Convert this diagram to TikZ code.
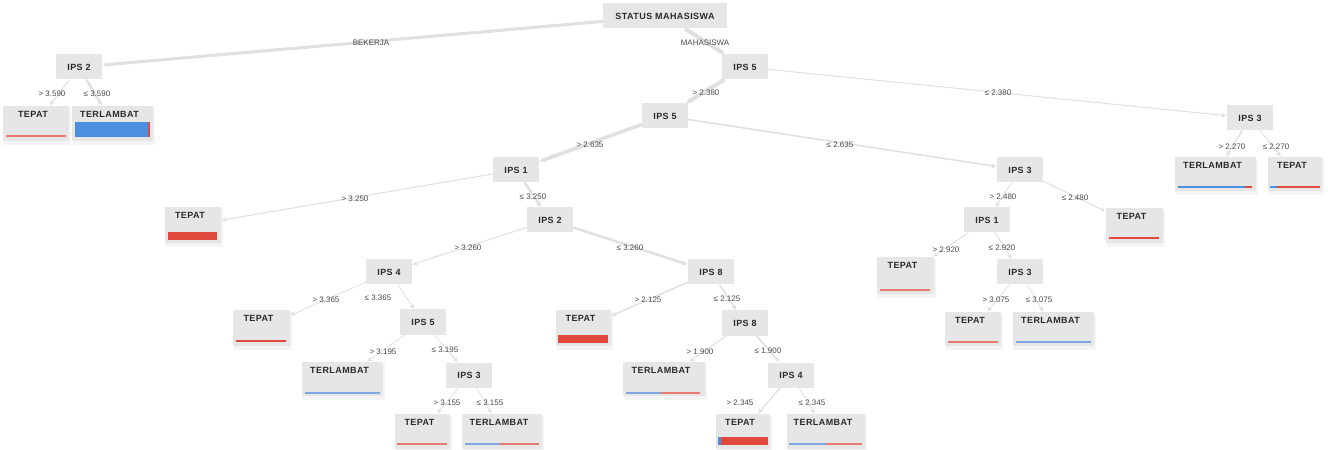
\documentclass[tikz,border=0pt]{standalone}
\usepackage{fontspec}
\setmainfont{Liberation Sans}
\newfontfamily\bx{Liberation Sans}[LetterSpace=5]
\usetikzlibrary{arrows.meta,fit,calc}
\definecolor{boxg}{HTML}{E6E6E6}
\definecolor{shad}{HTML}{F4F4F4}
\definecolor{edgec}{HTML}{E0E0E0}
\definecolor{bblue}{HTML}{4A8FE0}
\definecolor{bred}{HTML}{E0493C}
\definecolor{pblue}{HTML}{7FA6E0}
\definecolor{pred}{HTML}{E77B72}
\definecolor{txt}{HTML}{2A2A2A}
\definecolor{ltxt}{HTML}{4A4A4A}
\tikzset{
  dec/.style={fill=boxg, minimum width=46bp, minimum height=25bp, inner sep=0pt,
    font=\bx\bfseries\fontsize{9}{10}\selectfont, text=txt},
  leafbox/.style={fill=boxg, inner sep=0pt},
  leaftxt/.style={inner sep=0pt, font=\bx\bfseries\fontsize{9}{10}\selectfont, text=txt},
  elab/.style={inner sep=0pt, font=\fontsize{8}{9}\selectfont, text=ltxt},
  edge/.style={draw=edgec, -{Stealth[length=5bp,width=5bp]}, shorten >=0.5bp},
}
\newcommand\leaf[6]{%
  \fill[shad] (#2+1,#3+2) rectangle (#4+2,#5+4);
  \node[leafbox, fit={(#2,#3) (#4,#5)}] (#1) {};
  \node[leaftxt] (#1t) at ($(#1.north)+(-3,9)$) {#6};}
\newcommand\leafbar[5]{\fill[#5] (#1,#3) rectangle (#2,#4);}
\begin{document}
\begin{tikzpicture}[x=1bp,y=-1bp]
\useasboundingbox[fill=white] (0,0) rectangle (1328,450);
% decision nodes
\node[dec, minimum width=124bp] (root) at (665,16) {STATUS MAHASISWA};
\node[dec] (a) at (79,67) {IPS 2};
\node[dec] (b) at (745,67) {IPS 5};
\node[dec] (c) at (665,116) {IPS 5};
\node[dec] (d) at (1250,118) {IPS 3};
\node[dec] (e) at (516,170) {IPS 1};
\node[dec] (f) at (1020,170) {IPS 3};
\node[dec] (g) at (550,220) {IPS 2};
\node[dec] (h) at (987,220) {IPS 1};
\node[dec] (i) at (389,272) {IPS 4};
\node[dec] (j) at (711,272) {IPS 8};
\node[dec] (k) at (1020,272) {IPS 3};
\node[dec] (l) at (423,322) {IPS 5};
\node[dec] (m) at (745,323) {IPS 8};
\node[dec] (n) at (469,375) {IPS 3};
\node[dec] (o) at (791,375) {IPS 4};
% leaves
\leaf{L1}{3}{106}{69}{141}{TEPAT}
\leafbar{6}{66}{135.5}{137.5}{pred}
\leaf{L2}{72}{106}{153}{141}{TERLAMBAT}
\leafbar{75}{148}{122}{137}{bblue}\leafbar{148}{150}{122}{137}{bred}
\leaf{L3}{1175}{157}{1256}{191}{TERLAMBAT}
\leafbar{1178}{1245}{186}{188.5}{bblue}\leafbar{1245}{1252}{186}{188.5}{bred}
\leaf{L4}{1268}{157}{1322}{191}{TEPAT}
\leafbar{1270}{1277}{186}{188}{bblue}\leafbar{1277}{1320}{186}{188}{bred}
\leaf{L5}{165}{207}{221}{243}{TEPAT}
\leafbar{168}{217}{232}{240}{bred}
\leaf{L6}{1106}{208}{1163}{243}{TEPAT}
\leafbar{1109}{1159}{237}{239}{bred}
\leaf{L7}{877}{257}{934}{294}{TEPAT}
\leafbar{880}{930}{289}{291}{pred}
\leaf{L8}{233}{310}{290}{346}{TEPAT}
\leafbar{236}{286}{340}{342}{bred}
\leaf{L9}{556}{310}{611}{346}{TEPAT}
\leafbar{558}{608}{335}{343}{bred}
\leaf{L10}{945}{312}{1001}{346}{TEPAT}
\leafbar{948}{998}{341}{343}{pred}
\leaf{L11}{1013}{312}{1094}{346}{TERLAMBAT}
\leafbar{1016}{1091}{341}{343}{pblue}
\leaf{L12}{302}{362}{383}{396}{TERLAMBAT}
\leafbar{305}{380}{392}{394}{pblue}
\leaf{L13}{623}{362}{705}{396}{TERLAMBAT}
\leafbar{626}{661}{392}{394}{pblue}\leafbar{661}{700}{392}{394}{pred}
\leaf{L14}{395}{414}{450}{449}{TEPAT}
\leafbar{397}{447}{443}{445}{pred}
\leaf{L15}{462}{414}{542}{449}{TERLAMBAT}
\leafbar{465}{500}{443}{445}{pblue}\leafbar{500}{539}{443}{445}{pred}
\leaf{L16}{716}{414}{770}{449}{TEPAT}
\leafbar{718}{721}{437}{445}{bblue}\leafbar{721}{768}{437}{445}{bred}
\leaf{L17}{787}{414}{865}{449}{TERLAMBAT}
\leafbar{789}{826}{443}{445}{pblue}\leafbar{826}{862}{443}{445}{pred}
% edges
\draw[edge, line width=3bp] (root) -- (a);
\draw[edge, line width=4bp] (root) -- (b);
\draw[edge, line width=1bp] (a) -- (L1);
\draw[edge, line width=2.5bp] (a) -- (L2);
\draw[edge, line width=4bp] (b) -- (c);
\draw[edge, line width=1bp] (b) -- (d);
\draw[edge, line width=1.5bp] (d) -- (L3);
\draw[edge, line width=1bp] (d) -- (L4);
\draw[edge, line width=3.5bp] (c) -- (e);
\draw[edge, line width=1.5bp] (c) -- (f);
\draw[edge, line width=1bp] (e) -- (L5);
\draw[edge, line width=2.5bp] (e) -- (g);
\draw[edge, line width=1bp] (f) -- (h);
\draw[edge, line width=1bp] (f) -- (L6);
\draw[edge, line width=1bp] (g) -- (i);
\draw[edge, line width=2.5bp] (g) -- (j);
\draw[edge, line width=1bp] (h) -- (L7);
\draw[edge, line width=1bp] (h) -- (k);
\draw[edge, line width=0.8bp] (i) -- (L8);
\draw[edge, line width=0.8bp] (i) -- (l);
\draw[edge, line width=1.5bp] (j) -- (L9);
\draw[edge, line width=1.5bp] (j) -- (m);
\draw[edge, line width=0.8bp] (k) -- (L10);
\draw[edge, line width=0.8bp] (k) -- (L11);
\draw[edge, line width=0.8bp] (l) -- (L12);
\draw[edge, line width=0.8bp] (l) -- (n);
\draw[edge, line width=1bp] (m) -- (L13);
\draw[edge, line width=1.5bp] (m) -- (o);
\draw[edge, line width=0.8bp] (n) -- (L14);
\draw[edge, line width=0.8bp] (n) -- (L15);
\draw[edge, line width=1.2bp] (o) -- (L16);
\draw[edge, line width=0.8bp] (o) -- (L17);
% edge labels
\node[elab] (t1) at (371,43) {BEKERJA};
\node[elab] (t2) at (705,43) {MAHASISWA};
\node[elab] (t3) at (52,94) {> 3.590};
\node[elab] (t4) at (97,94) {≤ 3.590};
\node[elab] (t5) at (706,93) {> 2.380};
\node[elab] (t6) at (998,93) {≤ 2.380};
\node[elab] (t7) at (590,145) {> 2.635};
\node[elab] (t8) at (840,145) {≤ 2.635};
\node[elab] (t9) at (1232,147) {> 2.270};
\node[elab] (t10) at (1276,147) {≤ 2.270};
\node[elab] (t11) at (355,199) {> 3.250};
\node[elab] (t12) at (533,197) {≤ 3.250};
\node[elab] (t13) at (1003,197) {> 2.480};
\node[elab] (t14) at (1075,198) {≤ 2.480};
\node[elab] (t15) at (468,248) {> 3.260};
\node[elab] (t16) at (630,248) {≤ 3.260};
\node[elab] (t17) at (946,250) {> 2.920};
\node[elab] (t18) at (1002,248) {≤ 2.920};
\node[elab] (t19) at (326,300) {> 3.365};
\node[elab] (t20) at (378,298) {≤ 3.365};
\node[elab] (t21) at (648,300) {> 2.125};
\node[elab] (t22) at (727,299) {≤ 2.125};
\node[elab] (t23) at (996,300) {> 3.075};
\node[elab] (t24) at (1039,300) {≤ 3.075};
\node[elab] (t25) at (383,352) {> 3.195};
\node[elab] (t26) at (445,350) {≤ 3.195};
\node[elab] (t27) at (700,352) {> 1.900};
\node[elab] (t28) at (768,351) {≤ 1.900};
\node[elab] (t29) at (447,403) {> 3.155};
\node[elab] (t30) at (490,403) {≤ 3.155};
\node[elab] (t31) at (740,403) {> 2.345};
\node[elab] (t32) at (812,403) {≤ 2.345};
\end{tikzpicture}
\end{document}
